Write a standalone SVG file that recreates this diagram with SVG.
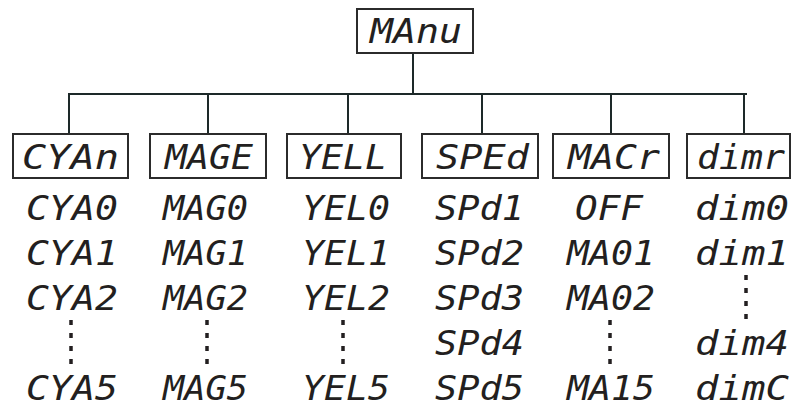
<svg xmlns="http://www.w3.org/2000/svg" width="791" height="408" viewBox="0 0 791 408">
<style>
.box{fill:#fff;stroke:#2b2b2b;stroke-width:2}
.t{font-family:"DejaVu Sans Mono","Liberation Mono",monospace;font-style:italic;font-size:34px;fill:#231f20}
.ln{stroke:#1d2929;stroke-width:2;fill:none}
.dots{stroke:#231f20;stroke-width:3.5;stroke-dasharray:5 8;fill:none}
</style>
<rect width="791" height="408" fill="#fff"/>
<g id="connectors">
<path class="ln" d="M413 53V94M68 94H747M69 94V134M208 94V134M348 94V134M482 94V134M611 94V134M744 94V133"/>
</g>
<g id="manu"><rect class="box" x="357" y="9" width="116" height="44"/><text class="t" x="370" y="43" textLength="92" lengthAdjust="spacingAndGlyphs">MAnu</text></g>
<g id="cyan">
<rect class="box" x="13" y="134" width="115" height="44"/><text class="t" x="22" y="169" textLength="97" lengthAdjust="spacingAndGlyphs">CYAn</text>
<text class="t" x="26" y="220" textLength="92" lengthAdjust="spacingAndGlyphs">CYA0</text>
<text class="t" x="26" y="265" textLength="92" lengthAdjust="spacingAndGlyphs">CYA1</text>
<text class="t" x="26" y="310" textLength="92" lengthAdjust="spacingAndGlyphs">CYA2</text>
<line class="dots" x1="71" y1="320" x2="71" y2="364"/>
<text class="t" x="26" y="400" textLength="92" lengthAdjust="spacingAndGlyphs">CYA5</text>
</g>
<g id="mage">
<rect class="box" x="150" y="134" width="116" height="44"/><text class="t" x="165" y="169" textLength="88" lengthAdjust="spacingAndGlyphs">MAGE</text>
<text class="t" x="163" y="220" textLength="85" lengthAdjust="spacingAndGlyphs">MAG0</text>
<text class="t" x="163" y="265" textLength="85" lengthAdjust="spacingAndGlyphs">MAG1</text>
<text class="t" x="163" y="310" textLength="85" lengthAdjust="spacingAndGlyphs">MAG2</text>
<line class="dots" x1="207" y1="320" x2="207" y2="364"/>
<text class="t" x="163" y="400" textLength="85" lengthAdjust="spacingAndGlyphs">MAG5</text>
</g>
<g id="yell">
<rect class="box" x="287" y="134" width="114" height="44"/><text class="t" x="299" y="169" textLength="88" lengthAdjust="spacingAndGlyphs">YELL</text>
<text class="t" x="302" y="220" textLength="88" lengthAdjust="spacingAndGlyphs">YEL0</text>
<text class="t" x="302" y="265" textLength="88" lengthAdjust="spacingAndGlyphs">YEL1</text>
<text class="t" x="302" y="310" textLength="88" lengthAdjust="spacingAndGlyphs">YEL2</text>
<line class="dots" x1="343" y1="320" x2="343" y2="364"/>
<text class="t" x="302" y="400" textLength="88" lengthAdjust="spacingAndGlyphs">YEL5</text>
</g>
<g id="sped">
<rect class="box" x="422" y="134" width="116" height="44"/><text class="t" x="436" y="169" textLength="93" lengthAdjust="spacingAndGlyphs">SPEd</text>
<text class="t" x="435" y="220" textLength="89" lengthAdjust="spacingAndGlyphs">SPd1</text>
<text class="t" x="435" y="265" textLength="89" lengthAdjust="spacingAndGlyphs">SPd2</text>
<text class="t" x="435" y="310" textLength="89" lengthAdjust="spacingAndGlyphs">SPd3</text>
<text class="t" x="435" y="355" textLength="89" lengthAdjust="spacingAndGlyphs">SPd4</text>
<text class="t" x="435" y="400" textLength="89" lengthAdjust="spacingAndGlyphs">SPd5</text>
</g>
<g id="macr">
<rect class="box" x="553" y="134" width="116" height="44"/><text class="t" x="568" y="169" textLength="92" lengthAdjust="spacingAndGlyphs">MACr</text>
<text class="t" x="575" y="220" textLength="68" lengthAdjust="spacingAndGlyphs">OFF</text>
<text class="t" x="567" y="265" textLength="88" lengthAdjust="spacingAndGlyphs">MA01</text>
<text class="t" x="567" y="310" textLength="88" lengthAdjust="spacingAndGlyphs">MA02</text>
<line class="dots" x1="610" y1="320" x2="610" y2="364"/>
<text class="t" x="567" y="400" textLength="88" lengthAdjust="spacingAndGlyphs">MA15</text>
</g>
<g id="dimr">
<rect class="box" x="687" y="134" width="103" height="44"/><text class="t" x="697" y="169" textLength="88" lengthAdjust="spacingAndGlyphs">dimr</text>
<text class="t" x="695" y="220" textLength="94" lengthAdjust="spacingAndGlyphs">dim0</text>
<text class="t" x="695" y="265" textLength="94" lengthAdjust="spacingAndGlyphs">dim1</text>
<line class="dots" x1="746" y1="275" x2="746" y2="319"/>
<text class="t" x="695" y="355" textLength="94" lengthAdjust="spacingAndGlyphs">dim4</text>
<text class="t" x="695" y="400" textLength="94" lengthAdjust="spacingAndGlyphs">dimC</text>
</g>
</svg>
